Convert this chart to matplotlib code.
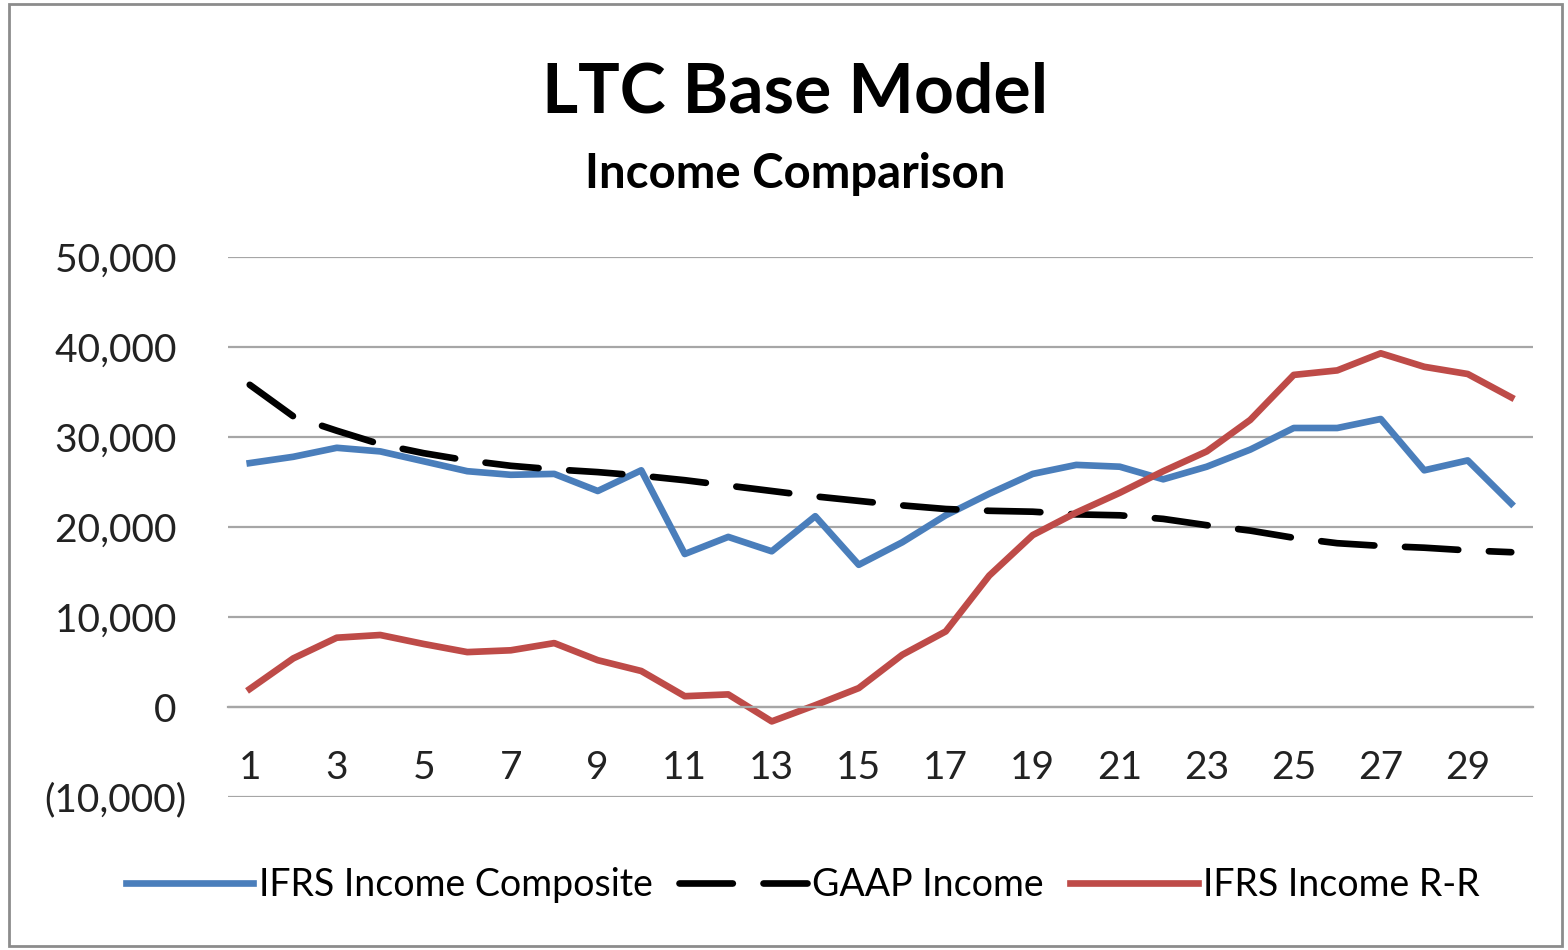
import numpy as np
import matplotlib.pyplot as plt
from matplotlib.patches import Rectangle
from matplotlib.ticker import FuncFormatter

plt.rcParams['font.family'] = ['Lato', 'DejaVu Sans']

years = np.arange(1, 31)

ifrs_composite = [27100, 27800, 28800, 28400, 27300, 26200, 25800, 25900, 24000, 26300,
                  17000, 18900, 17300, 21200, 15800, 18300, 21300, 23700, 25900, 26900,
                  26700, 25300, 26700, 28600, 31000, 31000, 32000, 26300, 27400, 22600]
gaap_income = [35800, 32300, 30700, 29200, 28200, 27400, 26800, 26400, 26100, 25700,
               25200, 24600, 24000, 23400, 22900, 22400, 22000, 21800, 21700, 21400,
               21300, 20900, 20200, 19600, 18800, 18200, 17900, 17700, 17400, 17200]
ifrs_rr = [2000, 5400, 7700, 8000, 7000, 6100, 6300, 7100, 5200, 4000,
           1200, 1400, -1600, 200, 2100, 5800, 8400, 14600, 19100, 21600,
           23800, 26200, 28400, 31900, 36900, 37400, 39300, 37800, 37000, 34400]

y_ticks = [-10000, 0, 10000, 20000, 30000, 40000, 50000]
x_ticks = list(range(1, 30, 2))

grid_col = '#a6a6a6'


def fmt(v, pos):
    # accounting style: negatives in brackets, positives leave room for ")"
    if v < 0:
        return '({:,.0f})'.format(-v)
    return '{:,.0f} '.format(v)


fig = plt.figure(figsize=(15.68, 9.5), dpi=100)
ax = fig.add_axes([228/1568, 1-797/950, (1533-228)/1568, (797-257)/950])

ax.plot(years, ifrs_composite, color='#4a7ebb', lw=4.8, label='IFRS Income Composite')
ax.plot(years, gaap_income, color='black', lw=4.8, dashes=(8, 4.6),
        dash_capstyle='round', label='GAAP Income')
ax.plot(years, ifrs_rr, color='#be4b48', lw=4.8, label='IFRS Income R-R')

ax.set_xlim(0.5, 30.5)
ax.set_ylim(-10000, 50000)
ax.set_yticks(y_ticks)
ax.yaxis.set_major_formatter(FuncFormatter(fmt))
ax.set_xticks(x_ticks)
ax.grid(axis='y', color=grid_col, lw=1.6)
ax.set_axisbelow(True)
for s in ['top', 'right', 'left']:
    ax.spines[s].set_visible(False)
ax.spines['bottom'].set_position(('data', 0))
ax.spines['bottom'].set_color(grid_col)
ax.spines['bottom'].set_linewidth(1.6)
ax.tick_params(axis='y', length=0, pad=30, labelsize=28, colors='#222222')
ax.tick_params(axis='x', length=0, pad=31, labelsize=28, colors='#222222')

fig.text(0.507, 0.902, 'LTC Base Model', ha='center', va='center', fontsize=50, fontweight='bold')
fig.text(0.507, 0.817, 'Income Comparison', ha='center', va='center', fontsize=34, fontweight='bold')

fig.legend(loc='center', bbox_to_anchor=(0.512, 0.068), ncol=3, frameon=False,
           fontsize=27, handlelength=3.4, handletextpad=0.15, columnspacing=0.7)

fig.patches.append(Rectangle((0.006, 0.004), 0.99, 0.992, transform=fig.transFigure,
                             fill=False, edgecolor='#8c8c8c', lw=2))

fig.savefig('out.png', dpi=100)
